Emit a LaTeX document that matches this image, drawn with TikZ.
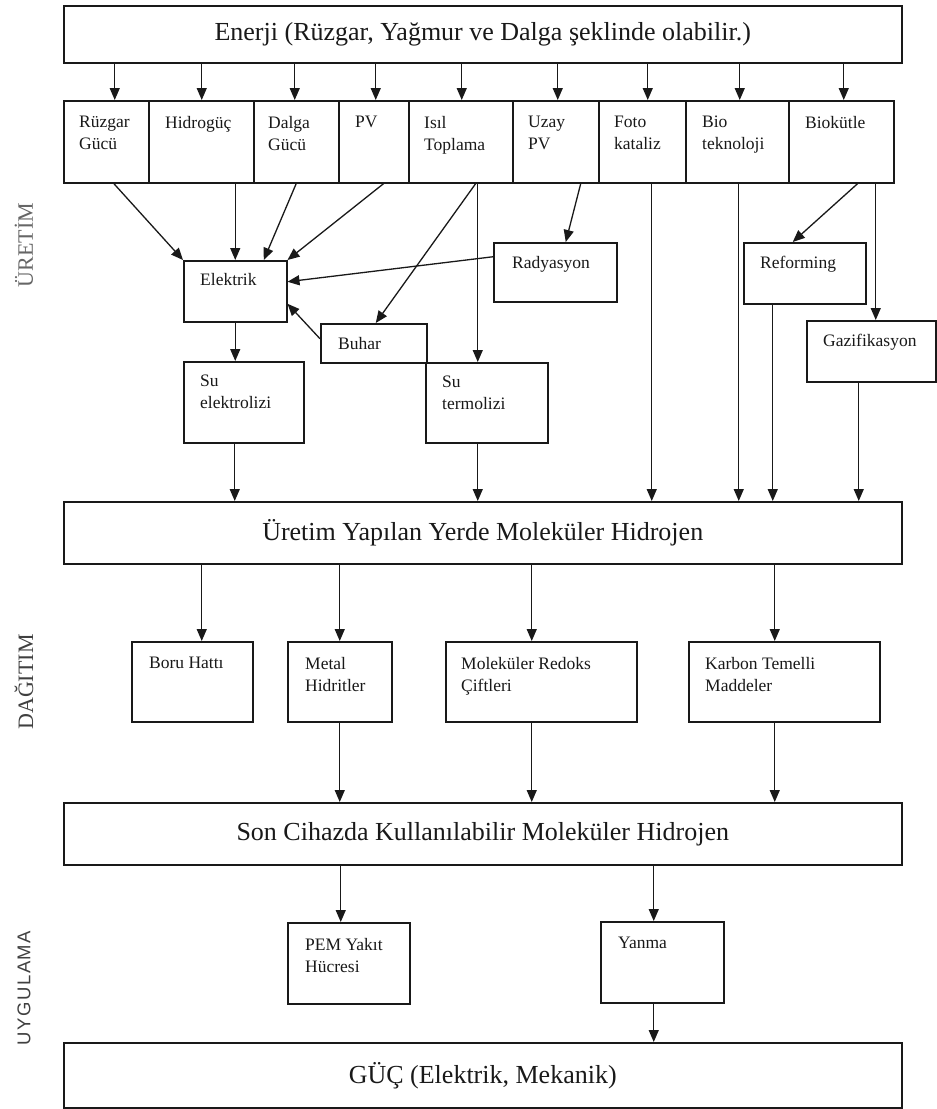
\documentclass[tikz,border=0pt]{standalone}
\usepackage{fontspec}
\setmainfont{Liberation Serif}
\newfontfamily\sidesans{Liberation Sans}
\usetikzlibrary{arrows.meta,calc}

\tikzset{
 bx/.style={draw=black!90, line width=1.5pt, rectangle, inner sep=0pt, anchor=north west},
 lbl/.style={anchor=north west, inner sep=0pt, align=left, font=\fontsize{17.5}{22}\selectfont, text=black!90},
 big/.style={font=\fontsize{26}{30}\selectfont, text=black!90},
 arr/.style={draw=black!90, line width=1.3pt, -{Triangle[length=12pt,width=10pt]}},
 side/.style={rotate=90, inner sep=0pt},
}

\newcommand{\mkbox}[8]{%
 \pgfmathsetmacro\mybw{#4-#2}\pgfmathsetmacro\mybh{#5-#3}%
 \node[bx, minimum width=\mybw pt, minimum height=\mybh pt,
   label={[lbl, xshift=#6pt, yshift=-#7pt]north west:{#8}}] (#1) at (#2,#3) {};}

\begin{document}
\begin{tikzpicture}[x=1pt,y=-1pt]
\useasboundingbox (0,0) rectangle (937,1109);
\fill[white] (0,0) rectangle (937,1109);

% big boxes
\node[bx, big, minimum width=838pt, minimum height=57pt] (enerji) at (63,5) {Enerji (Rüzgar, Yağmur ve Dalga şeklinde olabilir.)};
\node[bx, big, minimum width=838pt, minimum height=62pt] (uretim) at (63,501) {Üretim Yapılan Yerde Moleküler Hidrojen};
\node[bx, big, minimum width=838pt, minimum height=62pt] (son) at (63,802) {Son Cihazda Kullanılabilir Moleküler Hidrojen};
\node[bx, big, minimum width=838pt, minimum height=65pt] (guc) at (63,1042) {GÜÇ (Elektrik, Mekanik)};

% source row
\mkbox{c1}{63}{100}{148}{182}{16}{16}{Rüzgar\\Gücü}
\mkbox{c2}{148}{100}{253}{182}{17}{16}{Hidrogüç}
\mkbox{c3}{253}{100}{338}{182}{15}{16}{Dalga\\Gücü}
\mkbox{c4}{338}{100}{408}{182}{17}{16}{PV}
\mkbox{c5}{408}{100}{512}{182}{16}{16}{Isıl\\Toplama}
\mkbox{c6}{512}{100}{598}{182}{16}{16}{Uzay\\PV}
\mkbox{c7}{598}{100}{685}{182}{16}{16}{Foto\\kataliz}
\mkbox{c8}{685}{100}{788}{182}{17}{16}{Bio\\teknoloji}
\mkbox{c9}{788}{100}{893}{182}{17}{16}{Biokütle}

% production
\mkbox{elek}{183}{260}{286}{321}{17}{13}{Elektrik}
\mkbox{rad}{493}{242}{616}{301}{19}{14}{Radyasyon}
\mkbox{buhar}{320}{323}{426}{362}{18}{14}{Buhar}
\mkbox{sel}{183}{361}{303}{442}{17}{14}{Su\\elektrolizi}
\mkbox{term}{425}{362}{547}{442}{17}{14}{Su\\termolizi}
\mkbox{ref}{743}{242}{865}{303}{17}{14}{Reforming}
\mkbox{gaz}{806}{320}{935}{381}{17}{14}{Gazifikasyon}

% distribution
\mkbox{boru}{131}{641}{252}{721}{18}{16}{Boru Hattı}
\mkbox{metal}{287}{641}{391}{721}{18}{16}{Metal\\Hidritler}
\mkbox{redoks}{445}{641}{636}{721}{16}{16}{Moleküler Redoks\\Çiftleri}
\mkbox{karbon}{688}{641}{879}{721}{17}{16}{Karbon Temelli\\Maddeler}

% application
\mkbox{pem}{287}{922}{409}{1003}{18}{16}{PEM Yakıt\\Hücresi}
\mkbox{yanma}{600}{921}{723}{1002}{18}{16}{Yanma}

% side labels
\node[side, text=black!60, font=\fontsize{22}{22}\selectfont] (s1) at (24,245) {ÜRETİM};
\node[side, text=black!75, font=\fontsize{22}{22}\selectfont] (s2) at (24,682) {DAĞITIM};
\node[side, text=black!75, font=\sidesans\addfontfeature{LetterSpace=8}\fontsize{18.5}{18.5}\selectfont] (s3) at (24,988) {UYGULAMA};

% energy -> sources
\coordinate (a1) at ($(c1.north)+(8.5,0)$);
\coordinate (a2) at ($(c2.north)+(0.5,0)$);
\coordinate (a3) at ($(c3.north)+(-1.5,0)$);
\coordinate (a4) at ($(c4.north)+(2,0)$);
\coordinate (a5) at ($(c5.north)+(1,0)$);
\coordinate (a6) at ($(c6.north)+(2,0)$);
\coordinate (a7) at ($(c7.north)+(5.5,0)$);
\coordinate (a8) at ($(c8.north)+(2.5,0)$);
\coordinate (a9) at ($(c9.north)+(2.5,0)$);
\foreach \i in {1,...,9} \draw[arr] (enerji.south -| a\i) -- (a\i);

% sources -> production
\draw[arr] ($(c1.south)+(7.5,0)$) -- (elek.north west);
\draw[arr] (elek.north |- c2.south) -- (elek.north);
\draw[arr] (c3.south) -- ($(elek.north)+(28.5,0)$);
\draw[arr] ($(c4.south)+(10,0)$) -- (elek.north east);
\draw[arr] ($(c5.south)+(15,0)$) -- ($(buhar.north)+(2,0)$);
\coordinate (t1) at ($(term.north)+(-9,0)$);
\draw[arr] (t1 |- c5.south) -- (t1);
\draw[arr] ($(c6.south)+(25,0)$) -- ($(rad.north)+(10.5,0)$);
\draw[arr] ($(rad.west)+(0,-15.5)$) -- ($(elek.east)+(0,-9.5)$);
\draw[arr] ($(buhar.west)+(0,-4.5)$) -- ($(elek.east)+(0,12.5)$);
\draw[arr] (elek.south) -- (elek.south |- sel.north);
\draw[arr] ($(c9.south)+(16.5,0)$) -- ($(ref.north)+(-12,0)$);
\coordinate (g1) at ($(gaz.north)+(4.5,0)$);
\draw[arr] (g1 |- c9.south) -- (g1);

% -> molecular hydrogen at production site
\coordinate (u1) at ($(sel.south)+(-9,0)$);
\coordinate (u2) at ($(term.south)+(-9,0)$);
\coordinate (u3) at ($(c7.south)+(9.5,0)$);
\coordinate (u4) at ($(c8.south)+(1.5,0)$);
\coordinate (u5) at ($(ref.south)+(-32,0)$);
\coordinate (u6) at ($(gaz.south)+(-12.5,0)$);
\foreach \i in {1,...,6} \draw[arr] (u\i) -- (u\i |- uretim.north);

% distribution
\coordinate (d1) at ($(boru.north)+(9.5,0)$);
\coordinate (d2) at (metal.north);
\coordinate (d3) at ($(redoks.north)+(-9.5,0)$);
\coordinate (d4) at ($(karbon.north)+(-9.5,0)$);
\foreach \i in {1,...,4} \draw[arr] (uretim.south -| d\i) -- (d\i);

\coordinate (e2) at (metal.south);
\coordinate (e3) at ($(redoks.south)+(-9.5,0)$);
\coordinate (e4) at ($(karbon.south)+(-9.5,0)$);
\foreach \i in {2,3,4} \draw[arr] (e\i) -- (e\i |- son.north);

% application
\coordinate (f1) at ($(pem.north)+(-8,0)$);
\coordinate (f2) at ($(yanma.north)+(-8.5,0)$);
\draw[arr] (son.south -| f1) -- (f1);
\draw[arr] (son.south -| f2) -- (f2);
\coordinate (h1) at ($(yanma.south)+(-8.5,0)$);
\draw[arr] (h1) -- (h1 |- guc.north);
\end{tikzpicture}
\end{document}
